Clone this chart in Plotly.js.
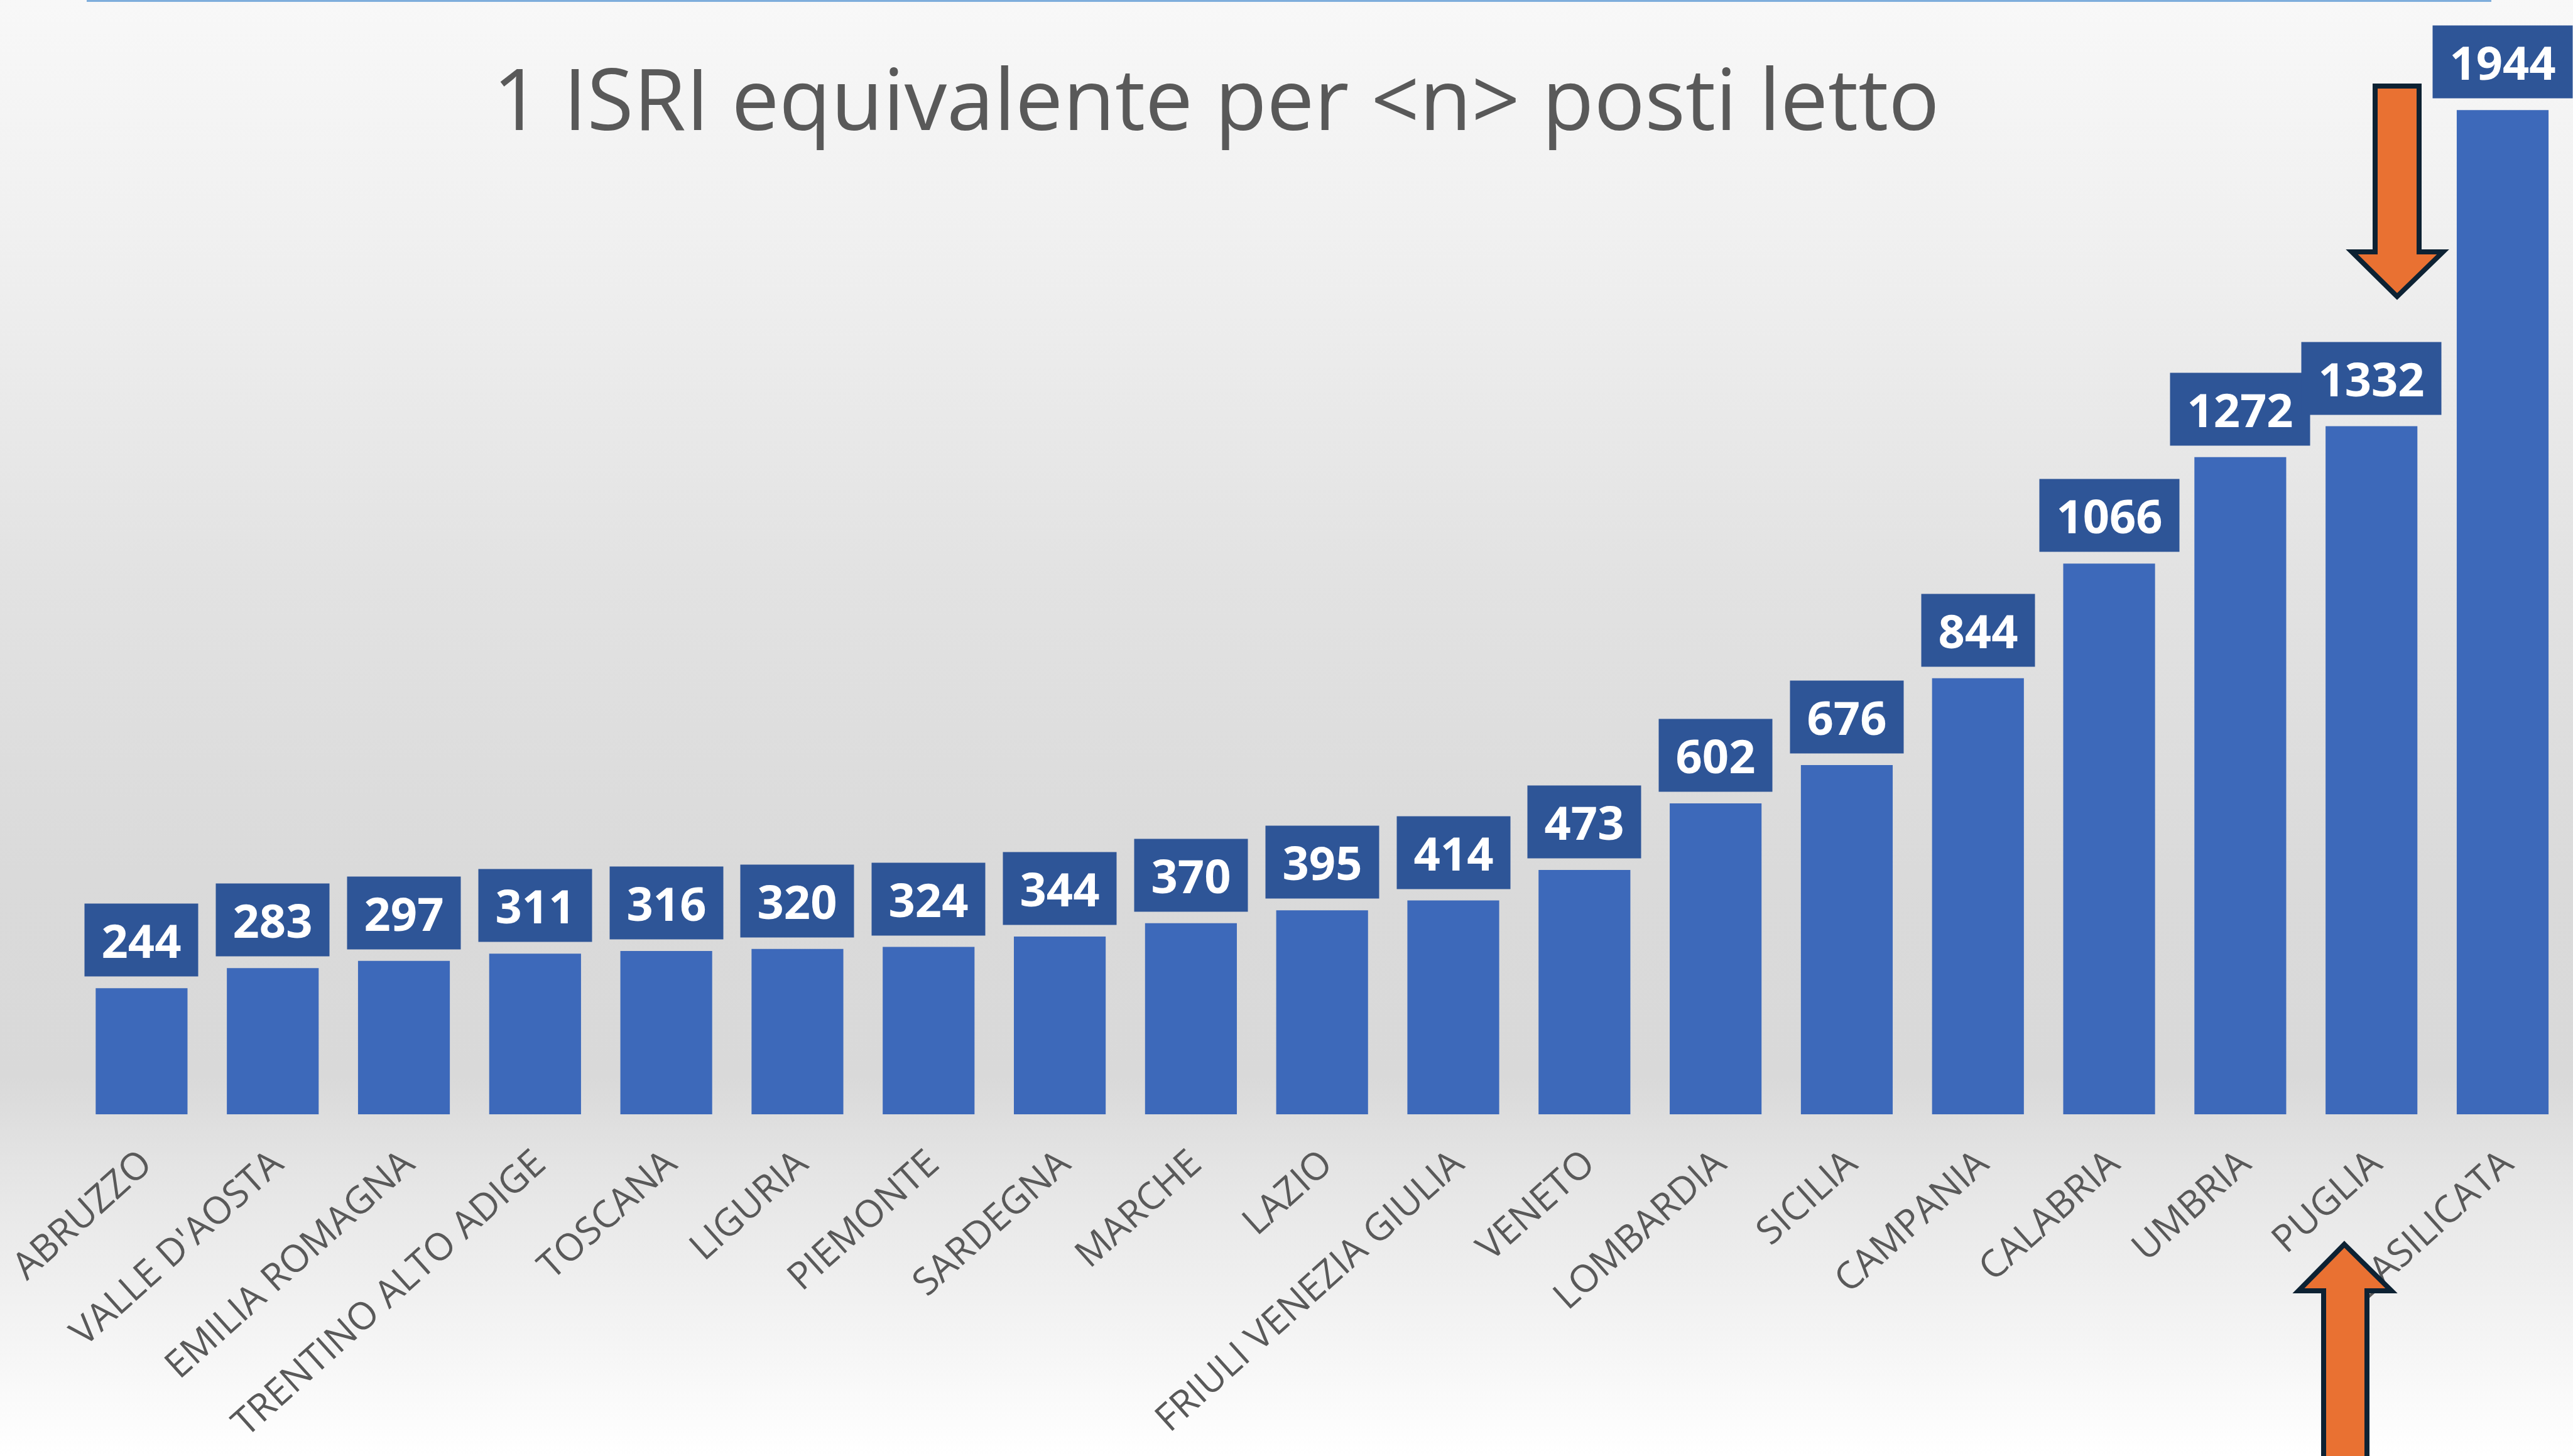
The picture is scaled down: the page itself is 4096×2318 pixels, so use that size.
<!DOCTYPE html>
<html>
<head>
<meta charset="utf-8">
<script src="https://cdn.plot.ly/plotly-3.0.1.min.js"></script>
<style>
  html, body { margin: 0; padding: 0; }
  body {
    width: 4096px; height: 2318px; overflow: hidden;
    background: linear-gradient(to bottom, #f8f8f8 0%, #eeeeee 20%, #e2e2e2 40%, #dadada 60%, #d9d9d9 74%, #e4e4e4 80%, #f2f2f2 90%, #ffffff 100%);
  }
  #chart { width: 4096px; height: 2318px; }
</style>
</head>
<body>
<div id="chart"></div>
<script>
const regions = ["ABRUZZO","VALLE D'AOSTA","EMILIA ROMAGNA","TRENTINO ALTO ADIGE","TOSCANA","LIGURIA","PIEMONTE","SARDEGNA","MARCHE","LAZIO","FRIULI VENEZIA GIULIA","VENETO","LOMBARDIA","SICILIA","CAMPANIA","CALABRIA","UMBRIA","PUGLIA","BASILICATA"];
const beds = [244,283,297,311,316,320,324,344,370,395,414,473,602,676,844,1066,1272,1332,1944];
const chartTitle = "1 ISRI equivalente per &lt;n&gt; posti letto";

const W = 4096, H = 2318;
const ML = 121, MR = 0, MT = 0, MB = 544;
const PW = W - ML - MR, PH = H - MT - MB;
const px = x => (x - ML) / PW;
const py = y => (H - MB - y) / PH;

function poly(pts) {
  return 'M' + pts.map(p => px(p[0]) + ',' + py(p[1])).join(' L') + ' Z';
}

const downArrow = poly([[3781,137],[3851,137],[3851,401],[3889,401],[3816,472],[3744,401],[3781,401]]);
const upArrow = poly([[3732,1981],[3807,2055],[3768,2055],[3768,2340],[3699,2340],[3699,2055],[3659,2055]]);

const annotations = regions.map((r, i) => ({
  x: r, y: beds[i], xref: 'x', yref: 'y',
  text: String(beds[i]),
  showarrow: false,
  yanchor: 'bottom', yshift: 18,
  bgcolor: '#2E5597',
  borderpad: 0,
  width: String(beds[i]).length > 3 ? 222 : 180,
  height: 115,
  font: { family: 'Open Sans', size: 74, color: '#ffffff', weight: 'bold' }
}));

const data = [{
  type: 'bar',
  x: regions,
  y: beds,
  marker: { color: '#3D69BA' },
  hoverinfo: 'x+y'
}];

const layout = {
  width: W, height: H,
  margin: { l: ML, r: MR, t: MT, b: MB, pad: 0 },
  paper_bgcolor: 'rgba(0,0,0,0)',
  plot_bgcolor: 'rgba(0,0,0,0)',
  bargap: 0.30,
  showlegend: false,
  title: {
    text: chartTitle,
    x: px(1936), xref: 'paper', xanchor: 'center',
    y: 1 - 160 / H, yref: 'container', yanchor: 'middle',
    font: { family: 'Open Sans', size: 135, color: '#595959' }
  },
  xaxis: {
    type: 'category',
    tickangle: -42,
    ticks: '',
    showline: false,
    showgrid: false,
    zeroline: false,
    automargin: false,
    ticklabelstandoff: 30,
    tickfont: { family: 'Open Sans', size: 60, color: '#595959' }
  },
  yaxis: {
    range: [0, 2157],
    visible: false,
    showgrid: false,
    zeroline: false,
    automargin: false
  },
  annotations: annotations,
  shapes: [
    { type: 'line', xref: 'paper', yref: 'paper', x0: px(138), x1: px(3966), y0: py(1.5), y1: py(1.5),
      line: { color: '#7FAEDC', width: 3 } },
    { type: 'path', xref: 'paper', yref: 'paper', path: downArrow,
      fillcolor: '#E97132', line: { color: '#0D2233', width: 8 } },
    { type: 'path', xref: 'paper', yref: 'paper', path: upArrow,
      fillcolor: '#E97132', line: { color: '#0D2233', width: 8 } }
  ]
};

Plotly.newPlot('chart', data, layout, { staticPlot: true, displayModeBar: false });
</script>
</body>
</html>
